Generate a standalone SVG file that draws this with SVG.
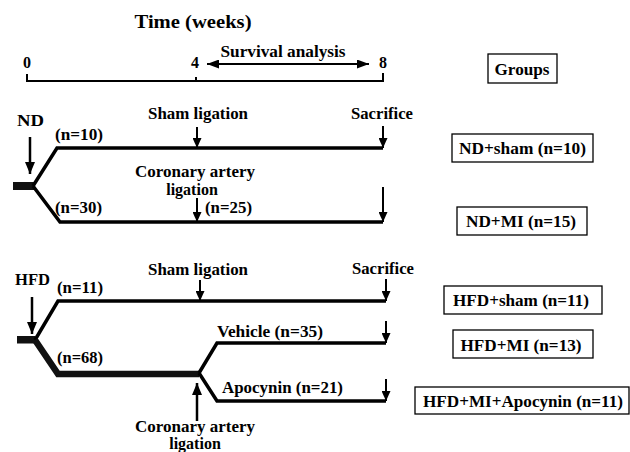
<svg xmlns="http://www.w3.org/2000/svg" width="630" height="452" viewBox="0 0 630 452">
<style>
text{font-family:'Liberation Serif','Times New Roman','DejaVu Serif',serif;font-weight:bold;fill:#000;font-size:16px}
.title{font-size:19px}
.mid{text-anchor:middle}
.thin{stroke:#000;stroke-width:2;fill:none}
.br{stroke:#000;stroke-width:3.5;fill:none;stroke-linejoin:miter}
.thick{stroke:#111;stroke-width:6.5;fill:none}
.arr{stroke:#000;stroke-width:2;fill:none;marker-end:url(#ah)}
.arrb{stroke:#000;stroke-width:2.5;fill:none;marker-end:url(#ahb)}
.box{fill:#fff;stroke:#000;stroke-width:1.3}
</style>
<defs>
<marker id="ah" markerUnits="userSpaceOnUse" markerWidth="10" markerHeight="9" refX="10" refY="4.5" orient="auto"><path d="M0,0 L10,4.5 L0,9 z" fill="#000"/></marker>
<marker id="ahb" markerUnits="userSpaceOnUse" markerWidth="12" markerHeight="10" refX="12" refY="5" orient="auto"><path d="M0,0 L12,5 L0,10 z" fill="#000"/></marker>
<marker id="ahs" markerUnits="userSpaceOnUse" markerWidth="12" markerHeight="9" refX="12" refY="4.5" orient="auto-start-reverse"><path d="M0,0 L12,4.5 L0,9 z" fill="#000"/></marker>
</defs>

<g id="timeline">
<text class="title mid" x="193" y="28" textLength="117" lengthAdjust="spacingAndGlyphs">Time (weeks)</text>
<path class="thin" d="M27,74 V81 H383 V73"/>
<line class="thin" x1="196" y1="77" x2="196" y2="81"/>
<text class="mid" x="27" y="68">0</text>
<text class="mid" x="195" y="68">4</text>
<text class="mid" x="383" y="68">8</text>
<line x1="207" y1="64" x2="369" y2="64" stroke="#000" stroke-width="2" marker-start="url(#ahs)" marker-end="url(#ahs)"/>
<text class="mid" x="283" y="57" textLength="125" lengthAdjust="spacingAndGlyphs">Survival analysis</text>
</g>

<g id="groups-header">
<rect class="box" x="488" y="54" width="69" height="29"/>
<text class="mid" x="522" y="75" textLength="55" lengthAdjust="spacingAndGlyphs">Groups</text>
</g>

<g id="connectors">
<rect x="13" y="182" width="21" height="8" fill="#111"/>
<path class="br" d="M33,186 L57,148 H383"/>
<path class="br" d="M33,186 L60,222 H383"/>
<line class="arrb" x1="30" y1="137" x2="30" y2="174"/>
<line class="arr" x1="197" y1="127" x2="197" y2="148"/>
<line class="arr" x1="383" y1="126" x2="383" y2="148"/>
<line class="arr" x1="197" y1="198" x2="197" y2="222"/>
<line class="arr" x1="383" y1="187" x2="383" y2="222"/>
<rect x="17" y="336" width="18" height="7.5" fill="#111"/>
<path class="br" d="M35,340 L58,301 H386"/>
<path class="thick" d="M35,340 L58,374 H199"/>
<path class="br" d="M199,373 L217,343 H386"/>
<path class="br" d="M199,373 L217,401 H386"/>
<line class="arrb" x1="32" y1="297" x2="32" y2="334"/>
<line class="arr" x1="200" y1="280" x2="200" y2="301"/>
<line class="arr" x1="386" y1="279" x2="386" y2="301"/>
<line class="arr" x1="386" y1="321" x2="386" y2="343"/>
<line class="arr" x1="386" y1="379" x2="386" y2="401"/>
<line class="arrb" x1="197" y1="421" x2="197" y2="383"/>
</g>

<g id="nd-labels">
<text x="17" y="126" textLength="27" lengthAdjust="spacingAndGlyphs">ND</text>
<text class="mid" x="198" y="119" textLength="100" lengthAdjust="spacingAndGlyphs">Sham ligation</text>
<text class="mid" x="382" y="119" textLength="62" lengthAdjust="spacingAndGlyphs">Sacrifice</text>
<text x="55" y="140" textLength="48" lengthAdjust="spacingAndGlyphs">(n=10)</text>
<text class="mid" x="195" y="177" textLength="120" lengthAdjust="spacingAndGlyphs">Coronary artery</text>
<text class="mid" x="192" y="195">ligation</text>
<text x="55" y="213" textLength="47" lengthAdjust="spacingAndGlyphs">(n=30)</text>
<text x="205" y="213" textLength="47" lengthAdjust="spacingAndGlyphs">(n=25)</text>
</g>

<g id="hfd-labels">
<text x="15" y="285" textLength="35" lengthAdjust="spacingAndGlyphs">HFD</text>
<text class="mid" x="198" y="275" textLength="100" lengthAdjust="spacingAndGlyphs">Sham ligation</text>
<text class="mid" x="383" y="274" textLength="62" lengthAdjust="spacingAndGlyphs">Sacrifice</text>
<text x="57" y="293" textLength="46" lengthAdjust="spacingAndGlyphs">(n=11)</text>
<text x="57" y="363" textLength="46" lengthAdjust="spacingAndGlyphs">(n=68)</text>
<text x="217" y="337" textLength="106" lengthAdjust="spacingAndGlyphs">Vehicle (n=35)</text>
<text x="222" y="393" textLength="121" lengthAdjust="spacingAndGlyphs">Apocynin (n=21)</text>
<text class="mid" x="195" y="432" textLength="120" lengthAdjust="spacingAndGlyphs">Coronary artery</text>
<text class="mid" x="195" y="449">ligation</text>
</g>

<g id="nd-sham">
<rect class="box" x="452" y="134" width="141" height="28"/>
<text class="mid" x="522.5" y="154" textLength="127" lengthAdjust="spacingAndGlyphs">ND+sham (n=10)</text>
</g>
<g id="nd-mi">
<rect class="box" x="457" y="207" width="130" height="28"/>
<text class="mid" x="521" y="227" textLength="110" lengthAdjust="spacingAndGlyphs">ND+MI (n=15)</text>
</g>
<g id="hfd-sham">
<rect class="box" x="444" y="286" width="158" height="28"/>
<text class="mid" x="521" y="306" textLength="136" lengthAdjust="spacingAndGlyphs">HFD+sham (n=11)</text>
</g>
<g id="hfd-mi">
<rect class="box" x="453" y="330" width="140" height="28"/>
<text class="mid" x="521" y="351" textLength="121" lengthAdjust="spacingAndGlyphs">HFD+MI (n=13)</text>
</g>
<g id="hfd-mi-apocynin">
<rect class="box" x="415" y="387" width="214" height="27"/>
<text class="mid" x="523" y="407" textLength="200" lengthAdjust="spacingAndGlyphs">HFD+MI+Apocynin (n=11)</text>
</g>
</svg>
